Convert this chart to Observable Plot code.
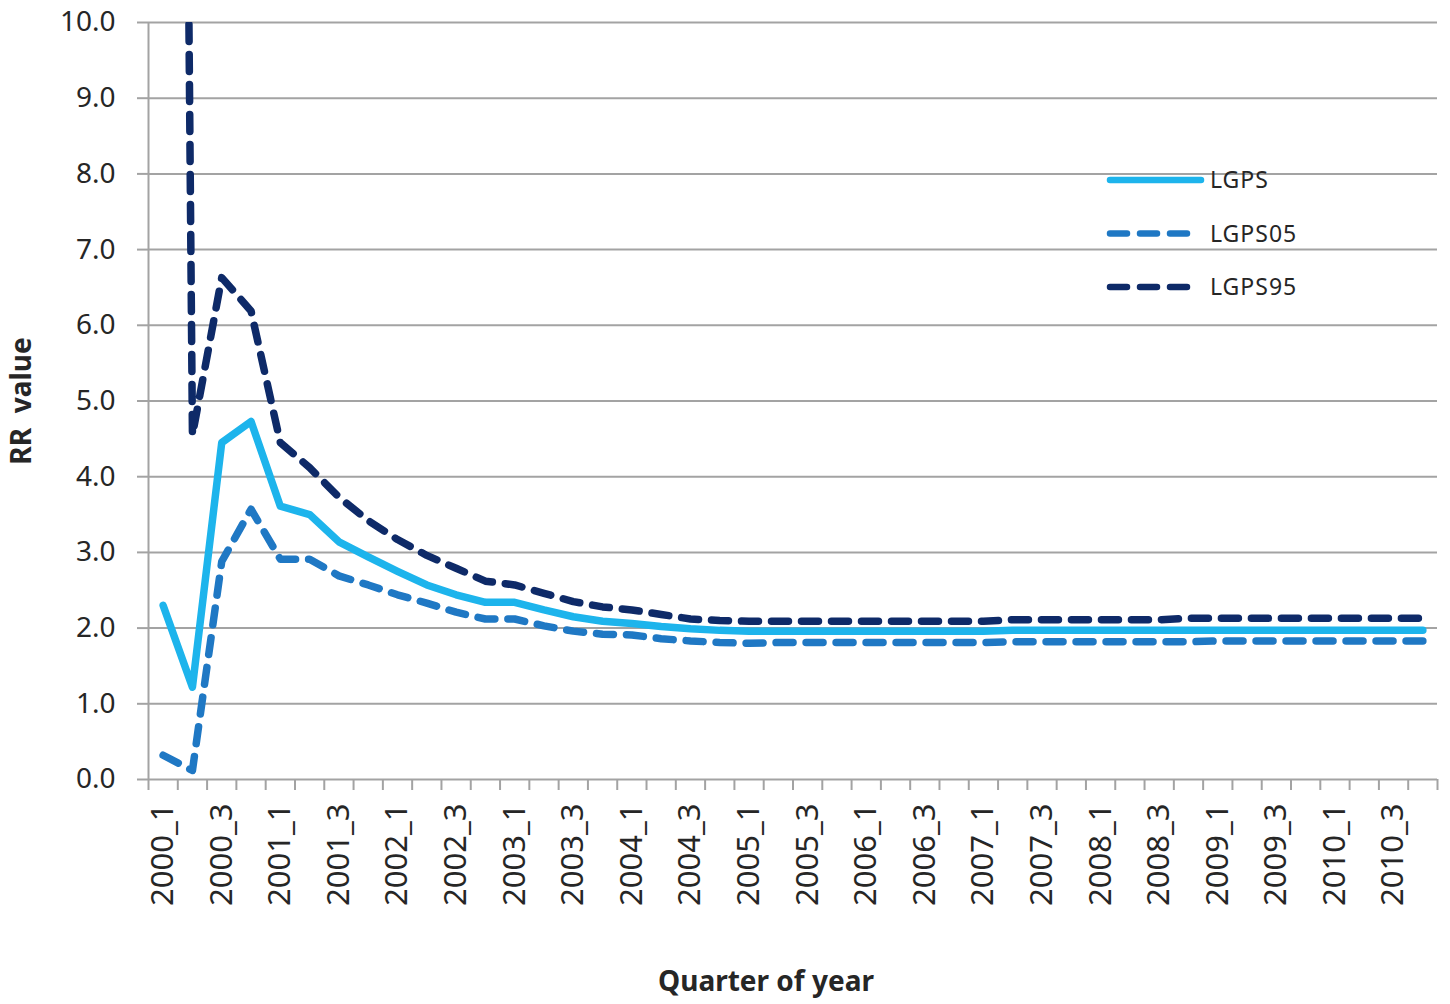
<!DOCTYPE html>
<html>
<head>
<meta charset="utf-8">
<script src="https://cdn.jsdelivr.net/npm/d3@7"></script>
<script src="https://cdn.jsdelivr.net/npm/@observablehq/plot@0.6"></script>
<style>
  body { margin: 0; background: #fff; }
  #wrap { position: relative; width: 1450px; height: 1004px; font-family: "Noto Sans", sans-serif; }
  #legend { position: absolute; left: 0; top: 0; pointer-events: none; }
</style>
</head>
<body>
<div id="wrap"></div>
<script>
const quarters = [
  "2000_1","2000_2","2000_3","2000_4","2001_1","2001_2","2001_3","2001_4",
  "2002_1","2002_2","2002_3","2002_4","2003_1","2003_2","2003_3","2003_4",
  "2004_1","2004_2","2004_3","2004_4","2005_1","2005_2","2005_3","2005_4",
  "2006_1","2006_2","2006_3","2006_4","2007_1","2007_2","2007_3","2007_4",
  "2008_1","2008_2","2008_3","2008_4","2009_1","2009_2","2009_3","2009_4",
  "2010_1","2010_2","2010_3","2010_4"
];
const lgps = [
  2.30, 1.22, 4.45, 4.73, 3.61, 3.50, 3.14, 2.94, 2.75, 2.57, 2.44, 2.34,
  2.34, 2.24, 2.15, 2.09, 2.06, 2.02, 1.99, 1.97, 1.96, 1.96, 1.96, 1.96,
  1.96, 1.96, 1.96, 1.96, 1.96, 1.97, 1.97, 1.97, 1.97, 1.97, 1.97, 1.97,
  1.97, 1.97, 1.97, 1.97, 1.97, 1.97, 1.97, 1.97
];
const lgps05 = [
  0.32, 0.12, 2.88, 3.57, 2.91, 2.91, 2.69, 2.57, 2.44, 2.33, 2.21, 2.12,
  2.12, 2.03, 1.96, 1.92, 1.91, 1.86, 1.83, 1.81, 1.80, 1.81, 1.81, 1.81,
  1.81, 1.81, 1.81, 1.81, 1.81, 1.82, 1.82, 1.82, 1.82, 1.82, 1.82, 1.82,
  1.83, 1.83, 1.83, 1.83, 1.83, 1.83, 1.83, 1.83
];
const lgps95 = [
  50.0, 4.55, 6.63, 6.19, 4.45, 4.12, 3.73, 3.42, 3.17, 2.96, 2.79, 2.62,
  2.57, 2.46, 2.35, 2.28, 2.24, 2.18, 2.12, 2.10, 2.09, 2.09, 2.09, 2.09,
  2.09, 2.09, 2.09, 2.09, 2.09, 2.11, 2.11, 2.11, 2.11, 2.11, 2.11, 2.13,
  2.13, 2.13, 2.13, 2.13, 2.13, 2.13, 2.13, 2.13
];
const seriesNames = ["LGPS", "LGPS05", "LGPS95"];
const seriesColors = ["#1db4ec", "#1f78c4", "#0e2a68"];
const seriesDash = [null, "17,13", "17,13"];
const yTicks = [0, 1, 2, 3, 4, 5, 6, 7, 8, 9, 10];
const xLabelIndex = quarters.map((q, i) => i).filter(i => i % 2 === 0);
const xBoundaries = quarters.map((q, i) => i - 0.5).concat([quarters.length - 0.5]);

const allSeries = [lgps, lgps05, lgps95];
const tables = allSeries.map((vals, k) => quarters.map((q, i) => ({i, q, s: seriesNames[k], v: vals[i]})));

const gridColor = "#a3a3a3";
const textColor = "#262626";

const chart = Plot.plot({
  width: 1450,
  height: 1004,
  marginLeft: 148,
  marginRight: 13,
  marginTop: 22,
  marginBottom: 225,
  style: {fontFamily: "'Noto Sans', sans-serif", background: "#fff", overflow: "visible"},
  x: {domain: [-0.5, quarters.length - 0.5]},
  y: {domain: [0, 10]},
  marks: [
    Plot.ruleY(yTicks, {stroke: gridColor, strokeWidth: 2}),
    Plot.ruleX([-0.5], {stroke: gridColor, strokeWidth: 2}),
    Plot.axisY({ticks: yTicks, tickSize: 11, tickPadding: 22, tickFormat: d => d.toFixed(1),
      fontSize: 28, label: null, stroke: gridColor, strokeWidth: 2, fill: textColor}),
    Plot.axisX({ticks: xBoundaries, tickSize: 11, tickFormat: () => "", label: null,
      stroke: gridColor, strokeWidth: 2}),
    Plot.axisX({ticks: xLabelIndex, tickSize: 0, tickPadding: 24, tickRotate: -90,
      tickFormat: i => quarters[i], fontSize: 31, label: null, fill: textColor}),
    ...tables.map((t, k) => Plot.line(t, {
      x: "i", y: "v", stroke: seriesColors[k], strokeWidth: 7.5,
      strokeDasharray: seriesDash[k] || undefined, strokeLinecap: "round",
      strokeLinejoin: "round", clip: true, curve: "linear"
    })),
    Plot.text(["Quarter of year"], {frameAnchor: "bottom", dy: 203, dx: -27, fontSize: 28,
      fontWeight: "bold", fill: textColor, textAnchor: "middle", lineAnchor: "middle", text: d => d}),
    Plot.text(["RR  value"], {frameAnchor: "left", dx: -126, rotate: -90, fontSize: 28,
      fontWeight: "bold", fill: textColor, textAnchor: "middle", text: d => d,
      style: "white-space: pre"})
  ]
});

const wrap = document.getElementById("wrap");
wrap.appendChild(chart);

// Legend (inside the plot area, upper right)
const legendX = 1107, legendY0 = 180, legendStep = 53.5;
const leg = d3.select(wrap).append("svg")
  .attr("id", "legend").attr("width", 1450).attr("height", 1004);
seriesNames.forEach((name, k) => {
  const y = legendY0 + k * legendStep;
  leg.append("line")
    .attr("x1", legendX + 3).attr("x2", k === 0 ? legendX + 94 : legendX + 82)
    .attr("y1", y).attr("y2", y)
    .attr("stroke", seriesColors[k]).attr("stroke-width", 6.5)
    .attr("stroke-linecap", "round")
    .attr("stroke-dasharray", seriesDash[k] ? "17,13" : null);
  leg.append("text")
    .attr("x", legendX + 103).attr("y", y).attr("dy", "0.35em")
    .attr("font-size", 23).attr("fill", textColor)
    .attr("letter-spacing", "1px")
    .attr("font-family", "'Noto Sans', sans-serif")
    .text(name);
});
</script>
</body>
</html>
